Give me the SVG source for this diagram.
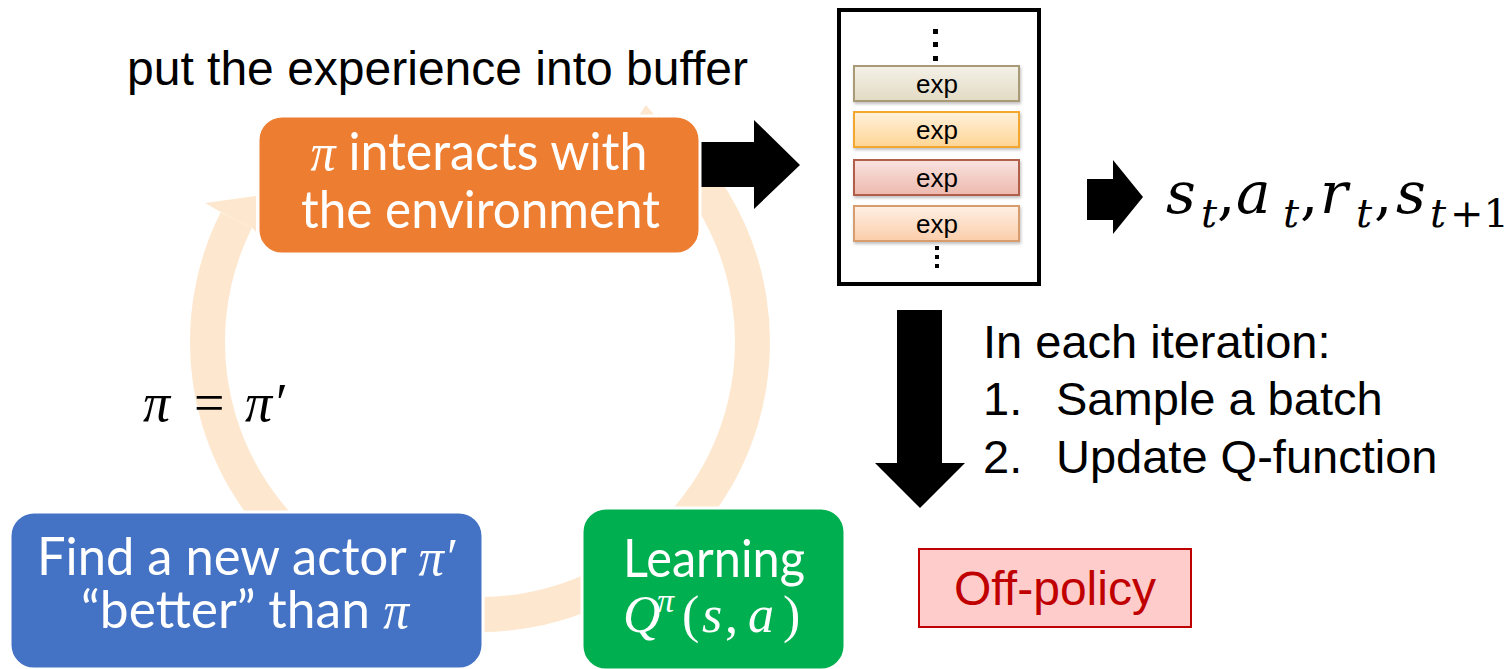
<svg xmlns="http://www.w3.org/2000/svg" width="1507" height="669" viewBox="0 0 1507 669">
  <defs>
    <style>
      .sans { font-family: "Liberation Sans", Arial, sans-serif; fill: #000; }
      .box-text { font-family: Lato, "Noto Sans", sans-serif; font-size: 52px; fill: #fff; }
      .math { font-family: "Liberation Serif", "DejaVu Serif", serif; font-style: italic; }
      .tex { font-family: "DejaVu Serif", "Liberation Serif", serif; font-style: italic; }
      .up { font-style: normal; }
      .box { stroke: #fff; stroke-width: 3; }
      .exp-text { font-family: "Liberation Sans", Arial, sans-serif; font-size: 26px; fill: #000; text-anchor: middle; }
      .ring { fill: none; stroke: #FDE8CF; stroke-width: 35; }
    </style>
    <linearGradient id="g-exp1" x1="0" y1="0" x2="0" y2="1">
      <stop offset="0" stop-color="#F4F1E8"/>
      <stop offset="1" stop-color="#E2DAC3"/>
    </linearGradient>
    <linearGradient id="g-exp2" x1="0" y1="0" x2="0" y2="1">
      <stop offset="0" stop-color="#FFF1DC"/>
      <stop offset="1" stop-color="#FFD594"/>
    </linearGradient>
    <linearGradient id="g-exp3" x1="0" y1="0" x2="0" y2="1">
      <stop offset="0" stop-color="#F9E3DF"/>
      <stop offset="1" stop-color="#EDB9AE"/>
    </linearGradient>
    <linearGradient id="g-exp4" x1="0" y1="0" x2="0" y2="1">
      <stop offset="0" stop-color="#FFF0E4"/>
      <stop offset="1" stop-color="#FBCDAA"/>
    </linearGradient>
    <filter id="soft-shadow" x="-10%" y="-20%" width="120%" height="160%">
      <feDropShadow dx="1" dy="2" stdDeviation="1.5" flood-color="#000" flood-opacity="0.25"/>
    </filter>
  </defs>

  <rect width="1507" height="669" fill="#fff"/>

  <!-- cycle ring behind the three boxes -->
  <g id="cycle-ring">
    <path class="ring" d="M236.3,220 A272.5,272.5 0 1 0 647.8,127.3"/>
    <polygon points="220.7,212.1 205,203 256,196 256,232 252,227.8" fill="#FDE8CF"/>
    <polygon points="638,117 646,105 656,117" fill="#FDE8CF"/>
  </g>

  <!-- connectors -->
  <g id="connectors" fill="#000">
    <polygon points="700,142 754,142 754,120 800,165 754,209 754,187 700,187"/>
    <polygon points="1087,179 1113,179 1113,160 1143,197 1113,234 1113,220 1087,220"/>
    <polygon points="897,310 942,310 942,463 965,463 920,508 875,463 897,463"/>
  </g>

  <text class="sans" x="127" y="85" font-size="48" textLength="621">put the experience into buffer</text>

  <g id="node-interact">
    <rect class="box" x="258" y="116" width="442" height="138" rx="24" fill="#ED7D31"/>
    <text class="box-text" x="479" y="170" text-anchor="middle" textLength="337" lengthAdjust="spacingAndGlyphs"><tspan class="math">π</tspan> interacts with</text>
    <text class="box-text" x="480.5" y="228" text-anchor="middle" textLength="359" lengthAdjust="spacingAndGlyphs">the environment</text>
  </g>

  <g id="node-buffer">
    <rect x="839" y="10" width="200" height="274" fill="#fff" stroke="#000" stroke-width="4"/>
    <g fill="#000">
      <rect x="933" y="29" width="5" height="5"/>
      <rect x="933" y="42" width="5" height="5"/>
      <rect x="933" y="56" width="5" height="5"/>
      <rect x="935" y="246" width="4" height="4"/>
      <rect x="935" y="255" width="4" height="4"/>
      <rect x="935" y="264" width="4" height="4"/>
    </g>
    <g filter="url(#soft-shadow)" stroke-width="2">
      <rect x="854" y="66" width="165" height="35" fill="url(#g-exp1)" stroke="#A99B78"/>
      <rect x="854" y="112" width="165" height="35" fill="url(#g-exp2)" stroke="#F3A72E"/>
      <rect x="854" y="160" width="165" height="35" fill="url(#g-exp3)" stroke="#B15E4B"/>
      <rect x="854" y="206" width="165" height="35" fill="url(#g-exp4)" stroke="#D89D6E"/>
    </g>
    <text class="exp-text" x="937" y="93">exp</text>
    <text class="exp-text" x="937" y="139">exp</text>
    <text class="exp-text" x="937" y="187">exp</text>
    <text class="exp-text" x="937" y="233">exp</text>
  </g>

  <g id="sample-tuple" class="tex" font-size="58" fill="#000">
    <text y="213"><tspan x="1166">s</tspan><tspan x="1201" y="227" font-size="40">t</tspan><tspan class="up" x="1217" y="213">,</tspan><tspan x="1236">a</tspan><tspan x="1283" y="227" font-size="40">t</tspan><tspan class="up" x="1300" y="213">,</tspan><tspan x="1320">r</tspan><tspan x="1356" y="227" font-size="40">t</tspan><tspan class="up" x="1374" y="213">,</tspan><tspan x="1396">s</tspan><tspan x="1430" y="227" font-size="40">t</tspan><tspan class="up" x="1450" y="227" font-size="40">+1</tspan></text>
  </g>

  <g id="iteration-note" class="sans" font-size="47">
    <text x="983" y="358">In each iteration:</text>
    <text x="983" y="415">1.</text>
    <text x="1056" y="415">Sample a batch</text>
    <text x="983" y="473">2.</text>
    <text x="1056" y="473">Update Q-function</text>
  </g>

  <g id="node-offpolicy">
    <rect x="919" y="549" width="272" height="78" fill="#FFCCCC" stroke="#C00000" stroke-width="2"/>
    <text x="1055" y="605" font-family="Liberation Sans, Arial, sans-serif" font-size="48" fill="#C00000" text-anchor="middle" textLength="202">Off-policy</text>
  </g>

  <g id="policy-update" class="math" font-size="54" fill="#000">
    <text y="421"><tspan x="143">π</tspan><tspan class="up" x="194">=</tspan><tspan x="245">π</tspan><tspan class="up" x="276">′</tspan></text>
  </g>

  <g id="node-actor">
    <rect class="box" x="10" y="512" width="473" height="157" rx="24" fill="#4472C4"/>
    <text class="box-text" x="246" y="575" text-anchor="middle" textLength="418" lengthAdjust="spacingAndGlyphs">Find a new actor <tspan class="math">π′</tspan></text>
    <text class="box-text" x="245" y="628" text-anchor="middle" textLength="328" lengthAdjust="spacingAndGlyphs">“better” than <tspan class="math">π</tspan></text>
  </g>

  <g id="node-learning">
    <rect class="box" x="582" y="508" width="263" height="162" rx="24" fill="#00B050"/>
    <text class="box-text" x="714" y="577" text-anchor="middle" textLength="182" lengthAdjust="spacingAndGlyphs">Learning</text>
    <text class="math" font-size="52" fill="#fff" y="632"><tspan x="623">Q</tspan><tspan x="657" y="612" font-size="34">π</tspan><tspan class="up" x="682" y="632">(</tspan><tspan x="702">s</tspan><tspan class="up" x="725">,</tspan><tspan x="748">a</tspan><tspan class="up" x="783">)</tspan></text>
  </g>
</svg>
